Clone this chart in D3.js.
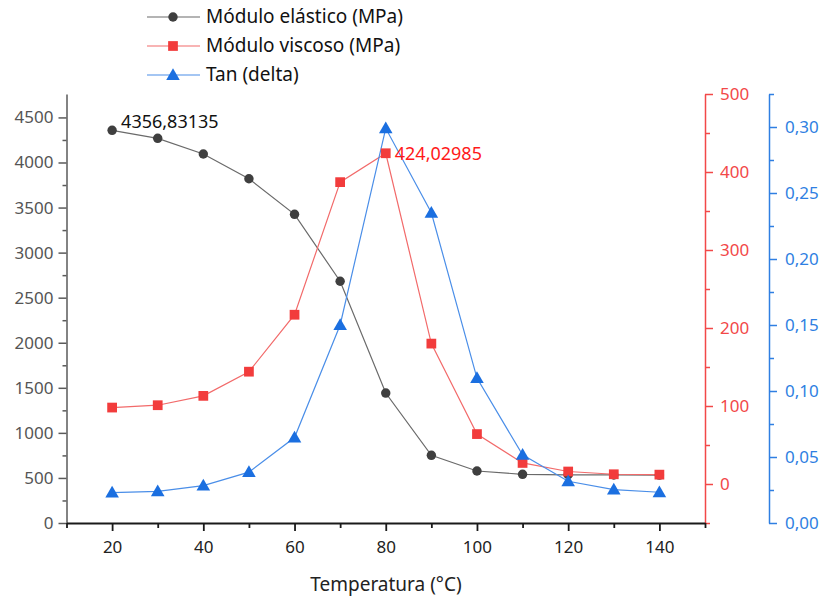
<!DOCTYPE html>
<html><head><meta charset="utf-8">
<script src="https://d3js.org/d3.v7.min.js"></script>
<style>body{margin:0;background:#fff;} svg{display:block;font-family:"Noto Sans",sans-serif;}</style>
</head><body>
<script>
const temps = [20,30,40,50,60,70,80,90,100,110,120,130,140];
const elastic = [4356.83135,4268,4094,3820,3425,2682,1442,751,577,540,535,533,532];
const viscous = [98,101,113,144,217,387,424.02985,180,64,27,16,12.5,12];
const tanDelta = [0.023,0.024,0.0283,0.0385,0.0647,0.150,0.299,0.235,0.1098,0.0516,0.0316,0.0253,0.0233];
const seriesNames = ["Módulo elástico (MPa)","Módulo viscoso (MPa)","Tan (delta)"];
const xTicks = [20,40,60,80,100,120,140];
const leftTicks = [0,500,1000,1500,2000,2500,3000,3500,4000,4500];
const redTicks = [0,100,200,300,400,500];
const blueTicks = [0,0.05,0.10,0.15,0.20,0.25,0.30];
const xTitle = "Temperatura (°C)";

const W=822,H=600;
const svg=d3.select("body").append("svg").attr("width",W).attr("height",H);
const x=d3.scaleLinear([10,150],[66.5,705]);
const yL=d3.scaleLinear([0,4760],[523,94]);
const yR=d3.scaleLinear([-50,500],[523,94]);
const yB=d3.scaleLinear([0,0.325],[523,94]);

const C={blackM:"#3f3f3f",blackL:"#6a6a6a",redM:"#f23c3c",redL:"#f26a6a",blueM:"#1b6fe0",blueL:"#4a8ee8",
  leftAx:"#5a5a5a",redAx:"#f24848",blueAx:"#2f7fe2"};
const FS=17;

function minor(lo,hi,step){const a=[];for(let v=lo;v<=hi+1e-9;v+=step)a.push(+v.toFixed(6));return a;}

// left axis
const gL=svg.append("g").attr("transform","translate(66.5,0)");
gL.call(d3.axisLeft(yL).tickValues(leftTicks).tickSize(8).tickPadding(5).tickSizeOuter(0).tickFormat(d3.format("d")));
gL.append("g").call(d3.axisLeft(yL).tickValues(minor(250,4500,500)).tickSize(4).tickFormat("").tickSizeOuter(0)).select(".domain").remove();
gL.selectAll("path,line").attr("stroke",C.leftAx).attr("stroke-width",1.5);
gL.selectAll("text").attr("fill","#555").attr("font-size",FS).attr("font-family","Noto Sans");

// red axis
const gR=svg.append("g").attr("transform","translate(705,0)");
gR.call(d3.axisRight(yR).tickValues(redTicks).tickSize(8).tickPadding(7).tickSizeOuter(0).tickFormat(d3.format("d")));
gR.append("g").call(d3.axisRight(yR).tickValues(minor(-50,450,100)).tickSize(5).tickFormat("").tickSizeOuter(0)).select(".domain").remove();
gR.selectAll("path,line").attr("stroke",C.redAx).attr("stroke-width",1.5);
gR.selectAll("text").attr("fill",C.redAx).attr("font-size",FS).attr("font-family","Noto Sans");

// blue axis
const gB=svg.append("g").attr("transform","translate(769,0)");
gB.call(d3.axisRight(yB).tickValues(blueTicks).tickSize(8).tickPadding(8).tickSizeOuter(0)
  .tickFormat(d=>d3.format(".2f")(d).replace(".",",")));
gB.append("g").call(d3.axisRight(yB).tickValues(minor(0.025,0.325,0.05)).tickSize(5).tickFormat("").tickSizeOuter(0)).select(".domain").remove();
gB.selectAll("path,line").attr("stroke",C.blueAx).attr("stroke-width",1.5);
gB.selectAll("text").attr("fill",C.blueAx).attr("font-size",FS).attr("font-family","Noto Sans");

// x axis
const gX=svg.append("g").attr("transform","translate(0,523)");
gX.call(d3.axisBottom(x).tickValues(xTicks).tickSize(8).tickPadding(10).tickSizeOuter(0));
gX.append("g").call(d3.axisBottom(x).tickValues(minor(10,150,20)).tickSize(5).tickFormat("").tickSizeOuter(0)).select(".domain").remove();
gX.selectAll("path,line").attr("stroke","#1a1a1a").attr("stroke-width",1.8);
gX.selectAll("text").attr("fill","#222").attr("font-size",FS).attr("font-family","Noto Sans");
svg.append("text").attr("x",386).attr("y",591).attr("text-anchor","middle").attr("font-size",19).attr("fill","#222").text(xTitle);

// series
function drawLine(vals,ys,col){
  svg.append("path").datum(vals).attr("fill","none").attr("stroke",col).attr("stroke-width",1.2)
    .attr("d",d3.line().x((d,i)=>x(temps[i])).y(d=>ys(d)));
}
drawLine(elastic,yL,C.blackL);
drawLine(viscous,yR,C.redL);
drawLine(tanDelta,yB,C.blueL);

const sym={circle:d3.symbol(d3.symbolCircle,70),square:d3.symbol(d3.symbolSquare,95),tri:d3.symbol(d3.symbolTriangle,80)};
svg.append("g").selectAll("path").data(elastic).join("path").attr("d",sym.circle())
  .attr("transform",(d,i)=>`translate(${x(temps[i])},${yL(d)})`).attr("fill",C.blackM);
svg.append("g").selectAll("path").data(viscous).join("path").attr("d",sym.square())
  .attr("transform",(d,i)=>`translate(${x(temps[i])},${yR(d)})`).attr("fill",C.redM);
svg.append("g").selectAll("path").data(tanDelta).join("path").attr("d",sym.tri())
  .attr("transform",(d,i)=>`translate(${x(temps[i])},${yB(d)+1})`).attr("fill",C.blueM);

// annotations
svg.append("text").attr("x",x(temps[0])+9).attr("y",yL(elastic[0])-2).attr("font-size",18).attr("fill","#111")
  .text(d3.format(".5f")(elastic[0]).replace(".",","));
svg.append("text").attr("x",x(temps[6])+9).attr("y",yR(viscous[6])+7).attr("font-size",18).attr("fill","#ff1a1a")
  .text(d3.format(".5f")(viscous[6]).replace(".",","));

// legend
const leg=[{n:seriesNames[0],l:C.blackL,m:C.blackM,s:sym.circle},{n:seriesNames[1],l:C.redL,m:C.redM,s:sym.square},{n:seriesNames[2],l:C.blueL,m:C.blueM,s:sym.tri}];
leg.forEach((e,i)=>{
  const y=17+i*29;
  svg.append("line").attr("x1",147).attr("x2",200).attr("y1",y).attr("y2",y).attr("stroke",e.l).attr("stroke-width",1.2);
  svg.append("path").attr("d",e.s()).attr("transform",`translate(173,${y+(i==2?1:0)})`).attr("fill",e.m);
  svg.append("text").attr("x",206).attr("y",y+6).attr("font-size",19).attr("fill","#111").text(e.n);
});
</script>
</body></html>
